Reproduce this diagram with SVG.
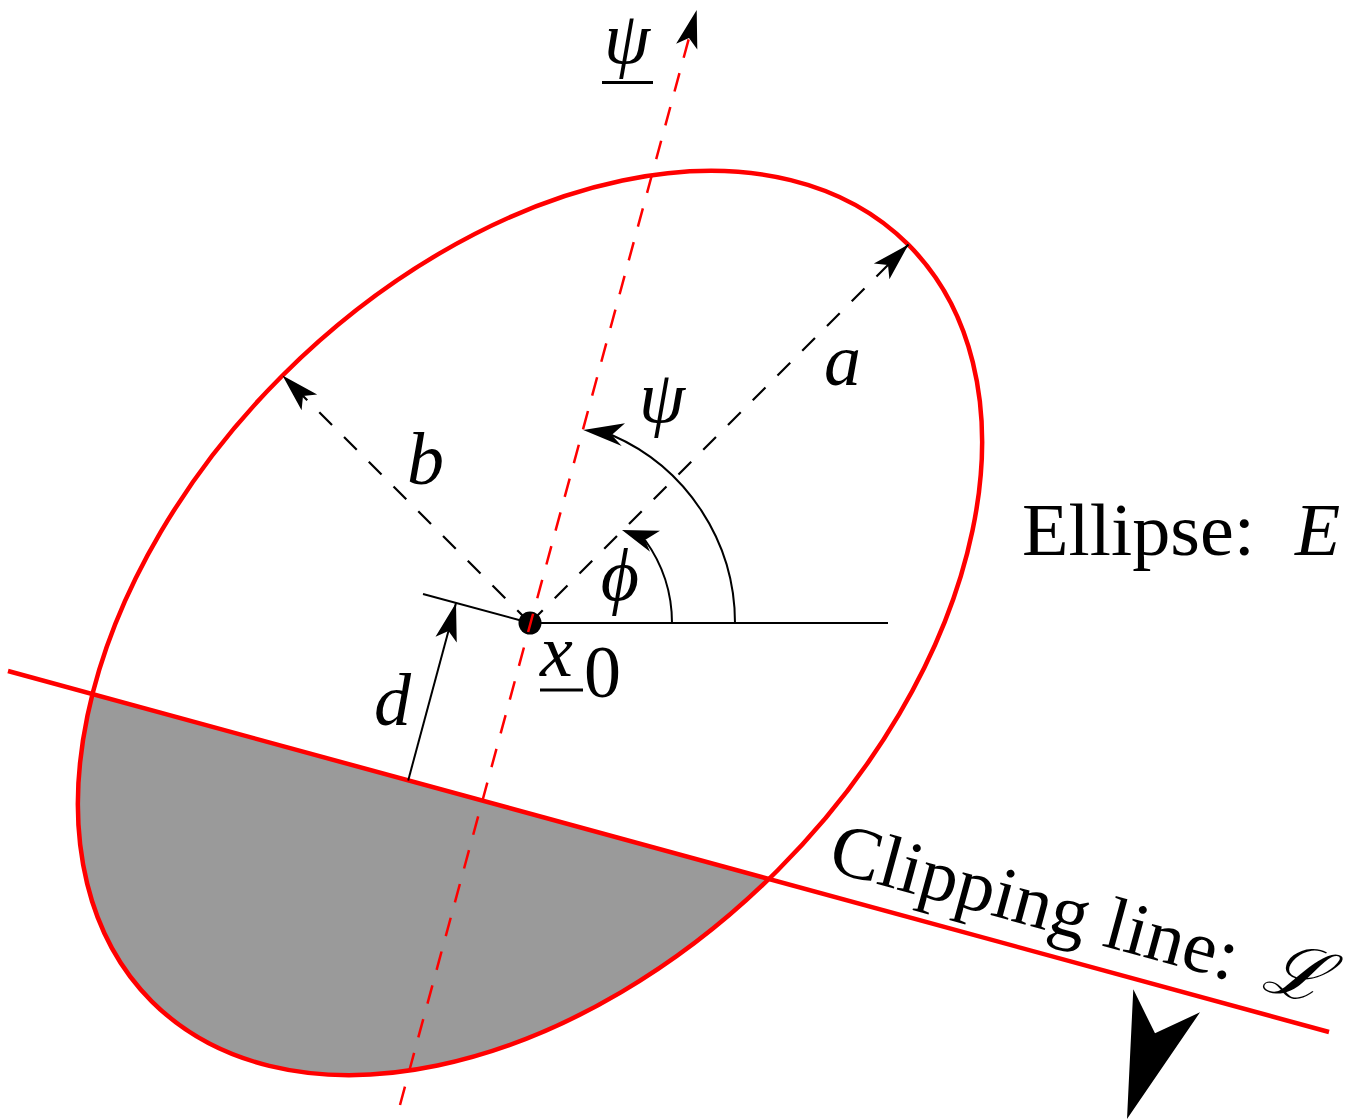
<svg xmlns="http://www.w3.org/2000/svg" width="1372" height="1119" viewBox="0 0 1372 1119">
<style>
.txt{font-family:"Liberation Serif","DejaVu Serif",serif;font-size:74px;fill:#000}
.it{font-style:italic}
.red{stroke:#ff0000;fill:none;stroke-width:4.5}
.rdash{stroke:#ff0000;fill:none;stroke-width:2.5;stroke-dasharray:19 16}
.bdash{stroke:#000;fill:none;stroke-width:2.2;stroke-dasharray:18 17}
.bl{stroke:#000;fill:none;stroke-width:2}
.head{fill:#000;stroke:none}
</style>
<defs>
<marker id="stealth" markerUnits="userSpaceOnUse" orient="auto" refX="0" refY="0" markerWidth="60" markerHeight="40" viewBox="-45 -20 60 40" overflow="visible">
<path d="M0,0 L-38,-11 L-29,0 L-38,11 Z" fill="#000"/>
</marker>
<clipPath id="below" clipPathUnits="userSpaceOnUse">
<polygon points="-100,641.5 1500,1078.8 1500,1200 -100,1200"/>
</clipPath>
</defs>

<g id="clipped-region" clip-path="url(#below)">
<ellipse cx="530" cy="623" rx="535" ry="350" transform="rotate(-45 530 623)" fill="#9a9a9a"/>
</g>

<g id="ellipse-E">
<ellipse cx="530" cy="623" rx="535" ry="350" transform="rotate(-45 530 623)" class="red"/>
</g>

<g id="clipping-line">
<line x1="8" y1="671" x2="1329" y2="1032" class="red"/>
</g>

<g id="connectors">
<line id="axis-a" x1="530" y1="623" x2="908.5" y2="244.5" class="bdash" marker-end="url(#stealth)"/>
<line id="axis-b" x1="530" y1="623" x2="282.5" y2="375.5" class="bdash" marker-end="url(#stealth)"/>
<line id="horizontal" x1="530" y1="623" x2="888" y2="623" class="bl"/>
<line id="parallel" x1="530" y1="623" x2="423" y2="594" class="bl"/>
<line id="d-arrow" x1="408.2" y1="780.4" x2="456" y2="603" class="bl" marker-end="url(#stealth)"/>
<path id="phi-arc" d="M672,623 A142,142 0 0 0 645,540" class="bl"/>
<polygon class="head" points="622,530 660,530.7 645,540 650,551.7"/>
<path id="psi-arc" d="M735,623 A205,205 0 0 0 611.7,435" class="bl"/>
<polygon class="head" points="583.3,430 625,423.3 611.7,435 621.7,446"/>
<polygon id="normal-arrow" class="head" points="1127,1119 1133.3,989.3 1155,1033.3 1200,1012.3"/>
</g>

<g id="center-x0">
<circle cx="530" cy="623" r="11.5" fill="#000"/>
</g>

<g id="psi-axis">
<line x1="400" y1="1105" x2="689" y2="38" class="rdash"/>
<polygon class="head" points="696.7,10 676.1,43.8 689,38 697.3,49.6"/>
</g>

<g id="labels">
<text class="txt it" x="627" y="63" text-anchor="middle" font-size="70">ψ</text>
<line x1="602" y1="82.5" x2="653" y2="82.5" stroke="#000" stroke-width="3"/>
<text class="txt it" x="824" y="385">a</text>
<text class="txt it" x="407" y="484">b</text>
<text class="txt it" x="662" y="422" text-anchor="middle">ψ</text>
<text class="txt it" x="620" y="600" text-anchor="middle">ϕ</text>
<text class="txt it" x="540" y="676">x</text>
<line x1="540" y1="690" x2="583" y2="690" stroke="#000" stroke-width="3"/>
<text class="txt" x="584" y="697" font-size="50">0</text>
<text class="txt it" x="374" y="725">d</text>
<text class="txt" x="1022" y="555" textLength="233" lengthAdjust="spacingAndGlyphs">Ellipse:</text>
<text class="txt it" x="1295" y="555">E</text>
<g transform="translate(826,870) rotate(15.3)">
<text class="txt" x="0" y="0" textLength="420" lengthAdjust="spacingAndGlyphs">Clipping line:</text>
<text class="txt it" x="450" y="0">ℒ</text>
</g>
</g>
</svg>
